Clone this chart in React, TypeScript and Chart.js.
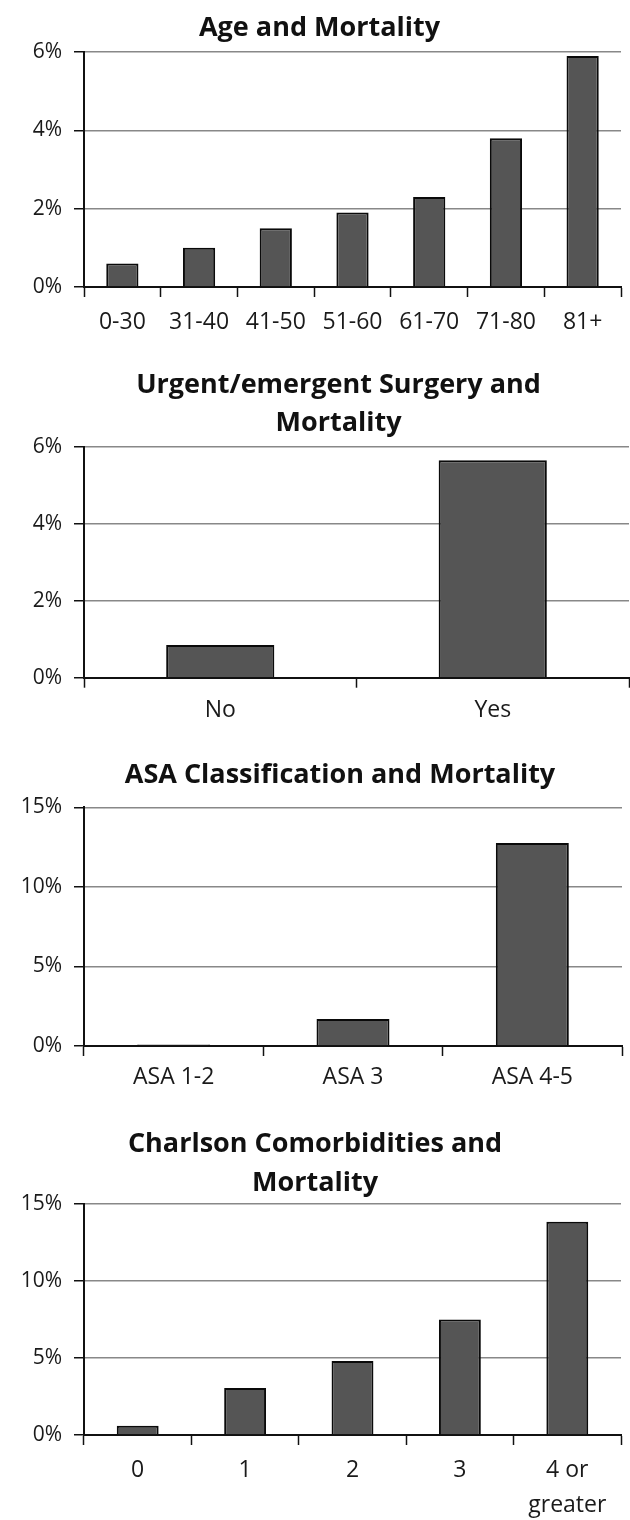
import React, { useEffect, useRef } from "react";
import { Chart, registerables } from "chart.js";

Chart.register(...registerables);

// ---------- data ----------
const ageLabels = ["0-30", "31-40", "41-50", "51-60", "61-70", "71-80", "81+"];
const ageValues = [0.6, 1.0, 1.5, 1.9, 2.3, 3.8, 5.9];

const urgentLabels = ["No", "Yes"];
const urgentValues = [0.85, 5.65];

const asaLabels = ["ASA 1-2", "ASA 3", "ASA 4-5"];
const asaValues = [0.1, 1.7, 12.75];

const charlsonLabels: (string | string[])[] = ["0", "1", "2", "3", ["4 or", "greater"]];
const charlsonValues = [0.6, 3.05, 4.8, 7.5, 13.85];

const titles: string[][] = [
  ["Age and Mortality"],
  ["Urgent/emergent Surgery and", "Mortality"],
  ["ASA Classification and Mortality"],
  ["Charlson Comorbidities and", "Mortality"],
];

const FONT = "'Open Sans', 'DejaVu Sans', sans-serif";
const AXIS_LEFT = 84;
const TITLE_SIZE = 27;

type Panel = {
  labels: (string | string[])[];
  values: number[];
  title: string[];
  width: number;
  height: number;
  titleLH: number;
  titleTop: number;
  titleBottom: number;
  padR: number;
  xAxisH: number;
  yMax: number;
  yStep: number;
  barFrac: number;
  xPad: number;
  xLH: number;
};

const panels: Panel[] = [
  { labels: ageLabels, values: ageValues, title: titles[0], width: 639, height: 340, titleLH: 31.2, titleTop: 13, titleBottom: 7.8, padR: 18, xAxisH: 53, yMax: 6, yStep: 2, barFrac: 0.42, xPad: 12, xLH: 27.6 },
  { labels: urgentLabels, values: urgentValues, title: titles[1], width: 677, height: 380, titleLH: 38, titleTop: 26, titleBottom: 4.7, padR: 48, xAxisH: 42.3, yMax: 6, yStep: 2, barFrac: 0.397, xPad: 9, xLH: 27.6 },
  { labels: asaLabels, values: asaValues, title: titles[2], width: 680, height: 380, titleLH: 31.2, titleTop: 40, titleBottom: 16.1, padR: 58, xAxisH: 54, yMax: 15, yStep: 5, barFrac: 0.407, xPad: 8, xLH: 27.6 },
  { labels: charlsonLabels, values: charlsonValues, title: titles[3], width: 630, height: 420, titleLH: 39, titleTop: 25, titleBottom: 1, padR: 9, xAxisH: 85, yMax: 15, yStep: 5, barFrac: 0.39, xPad: 8, xLH: 35 },
];

function BarPanel({ p }: { p: Panel }) {
  const ref = useRef<HTMLCanvasElement | null>(null);
  useEffect(() => {
    if (!ref.current) return;
    const chart = new Chart(ref.current, {
      type: "bar",
      data: {
        labels: p.labels as any,
        datasets: [
          {
            data: p.values,
            backgroundColor: "#555555",
            borderColor: "#0a0a0a",
            borderWidth: 2,
            categoryPercentage: 1,
            barPercentage: p.barFrac,
            yAxisID: "y",
          },
        ],
      },
      options: {
        responsive: false,
        animation: false,
        layout: { padding: 0 },
        plugins: {
          legend: { display: false },
          tooltip: { enabled: false },
          title: {
            display: true,
            text: p.title,
            color: "#111111",
            font: { family: FONT, size: TITLE_SIZE, weight: "bold", lineHeight: p.titleLH / TITLE_SIZE },
            padding: { top: p.titleTop, bottom: p.titleBottom },
          },
        },
        scales: {
          x: {
            afterFit: (s: any) => {
              s.height = p.xAxisH;
            },
            grid: {
              display: true,
              drawOnChartArea: false,
              drawTicks: true,
              tickLength: 10,
              tickColor: "#111111",
              tickWidth: 1.5,
              color: "#111111",
              offset: true,
            },
            border: { display: true, color: "#111111", width: 2 },
            ticks: {
              color: "#1a1a1a",
              font: { family: FONT, size: 23, lineHeight: p.xLH / 23 },
              padding: p.xPad,
              maxRotation: 0,
              autoSkip: false,
            },
          },
          y: {
            min: 0,
            max: p.yMax,
            afterFit: (s: any) => {
              s.width = AXIS_LEFT;
            },
            grid: {
              display: true,
              drawOnChartArea: true,
              drawTicks: true,
              tickLength: 10,
              color: "#888888",
              lineWidth: 1.5,
              tickColor: "#111111",
              tickWidth: 1.5,
            },
            border: { display: true, color: "#111111", width: 2 },
            ticks: {
              stepSize: p.yStep,
              color: "#1a1a1a",
              font: { family: FONT, size: 21 },
              padding: 12,
              callback: (v: any) => v + "%",
            },
          },
          // empty spacer axis on the right that only reserves room
          yRight: {
            type: "linear",
            position: "right",
            display: true,
            min: 0,
            max: p.yMax,
            afterFit: (s: any) => {
              s.width = p.padR;
            },
            grid: { display: false, drawTicks: false },
            border: { display: false },
            ticks: { display: false },
          },
        },
      },
    });
    if ((document as any).fonts && (document as any).fonts.ready) {
      (document as any).fonts.ready.then(() => {
        try {
          chart.update();
        } catch (e) {}
      });
    }
    return () => chart.destroy();
  }, [p]);
  return (
    <div style={{ width: 630, height: p.height, position: "relative", overflow: "hidden" }}>
      <canvas
        ref={ref}
        width={p.width}
        height={p.height}
        style={{ width: p.width, height: p.height, display: "block", position: "absolute", left: 0, top: 0 }}
      />
    </div>
  );
}

export default function App() {
  return (
    <div style={{ position: "absolute", left: 0, top: 0, width: 630, height: 1520, overflow: "hidden", background: "#ffffff" }}>
      {panels.map((p, i) => (
        <BarPanel key={i} p={p} />
      ))}
    </div>
  );
}
